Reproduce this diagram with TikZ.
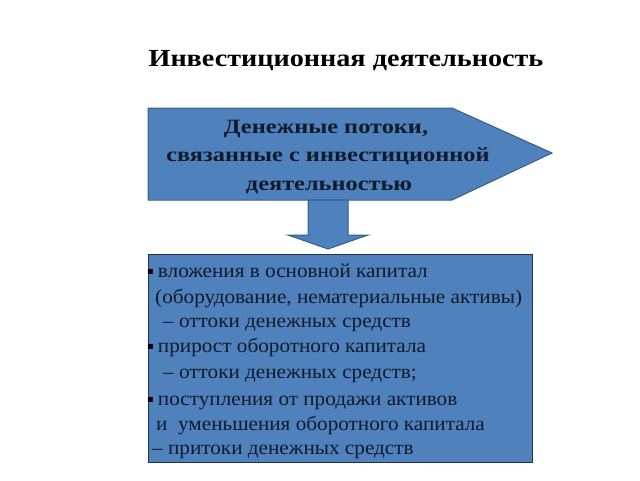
\documentclass[tikz,border=0pt]{standalone}
\usepackage{fontspec}
\setmainfont{Liberation Serif}
\newfontfamily\titlefont[FakeStretch=1.15]{Liberation Serif}
\newfontfamily\arrowfont[FakeStretch=1.2]{Liberation Serif}
\newfontfamily\boxfont[FakeStretch=1.06]{Liberation Serif}
\newfontfamily\symfont{DejaVu Sans}
\newcommand{\bul}{\raisebox{3pt}{\symfont\fontsize{10}{10}\selectfont\color{black}▪}}
\definecolor{fillblue}{HTML}{4F81BD}
\definecolor{edgeblue}{HTML}{385D8A}
\definecolor{boxedge}{HTML}{1F3350}
\definecolor{inktext}{HTML}{111A2A}
\begin{document}
\begin{tikzpicture}[x=1pt,y=-1pt,
  shapestyle/.style={fill=fillblue,draw=edgeblue,line width=1pt},
  titletext/.style={font=\titlefont\fontsize{24.5}{28}\selectfont\bfseries,text=black,inner sep=0pt},
  arrowtext/.style={font=\arrowfont\fontsize{20.3}{24}\selectfont\bfseries,text=inktext,inner sep=0pt,anchor=base},
  boxtext/.style={font=\boxfont\fontsize{20}{24}\selectfont,text=inktext,inner sep=0pt,anchor=base west}]
\useasboundingbox (0,0) rectangle (640,480);
% title
\node[titletext,anchor=base] (title) at (346,66) {Инвестиционная деятельность};
% big arrow
\draw[shapestyle] (148,108) -- (452,108) -- (552,153) -- (452,200) -- (148,200) -- cycle;
\node[arrowtext] (a1) at (326,133) {Денежные потоки,};
\node[arrowtext] (a2) at (328,161) {связанные с инвестиционной};
\node[arrowtext] (a3) at (329,190) {деятельностью};
% down arrow
\draw[shapestyle] (308,200) -- (348,200) -- (348,235) -- (368,235) -- (328,249) -- (288,235) -- (308,235) -- cycle;
% box
\draw[fill=fillblue,draw=boxedge,line width=0.8pt] (148,254) rectangle (532,462);
\node[boxtext] (b1) at (147,277) {\bul\hspace{4pt}вложения в основной капитал};
\node[boxtext] (b2) at (155,303) {(оборудование, нематериальные активы)};
\node[boxtext] (b3) at (163,327) {– оттоки денежных средств};
\node[boxtext] (b4) at (147,352) {\bul\hspace{4pt}прирост оборотного капитала};
\node[boxtext] (b5) at (163,378) {– оттоки денежных средств;};
\node[boxtext] (b6) at (147,405) {\bul\hspace{4pt}поступления от продажи активов};
\node[boxtext] (b7) at (156,430) {и \ уменьшения оборотного капитала};
\node[boxtext] (b8) at (152,454) {– притоки денежных средств};
\end{tikzpicture}
\end{document}
